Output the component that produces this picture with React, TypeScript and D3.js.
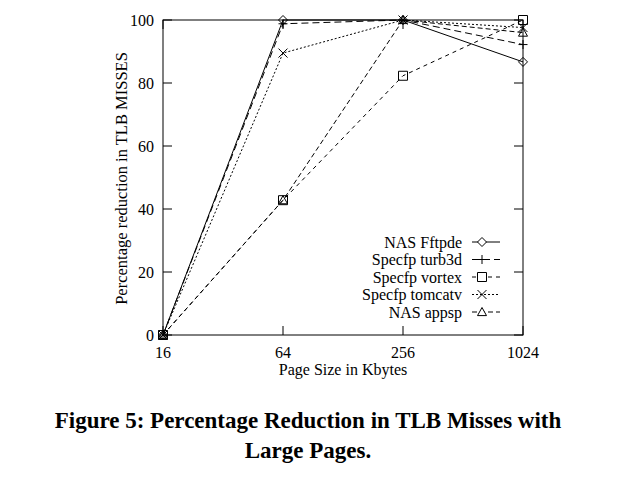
import { useRef, useEffect } from 'react';
import * as d3 from 'd3';

const pageSizes = [16, 64, 256, 1024];
const yTicks = [0, 20, 40, 60, 80, 100];

const seriesNames = ['NAS Fftpde', 'Specfp turb3d', 'Specfp vortex', 'Specfp tomcatv', 'NAS appsp'];
const fftpde = [0, 100, 100, 86.7];
const turb3d = [0, 98.8, 100, 92.2];
const vortex = [0, 42.8, 82.3, 100];
const tomcatv = [0, 89.5, 100, 97.6];
const appsp = [0, 42.8, 100, 96];

const seriesValues = [fftpde, turb3d, vortex, tomcatv, appsp];
const markers = ['diamond', 'plus', 'square', 'cross', 'triangle'];
const dashes = ['none', '7,4', '4,4', '2,2', '5,3'];

function markerPath(kind: string, x: number, y: number): string {
  const s = 4.5;
  switch (kind) {
    case 'diamond':
      return `M${x},${y - s}L${x + s},${y}L${x},${y + s}L${x - s},${y}Z`;
    case 'plus':
      return `M${x - s},${y}L${x + s},${y}M${x},${y - s}L${x},${y + s}`;
    case 'square':
      return `M${x - s},${y - s}L${x + s},${y - s}L${x + s},${y + s}L${x - s},${y + s}Z`;
    case 'cross':
      return `M${x - s},${y - s}L${x + s},${y + s}M${x - s},${y + s}L${x + s},${y - s}`;
    default:
      return `M${x},${y - s}L${x + s},${y + s * 0.8}L${x - s},${y + s * 0.8}Z`;
  }
}

export default function App() {
  const svgRef = useRef<SVGSVGElement>(null);

  useEffect(() => {
    if (!svgRef.current) return;
    const svg = d3.select(svgRef.current);
    svg.selectAll('*').remove();

    const left = 163;
    const right = 523;
    const top = 20;
    const bottom = 335;
    const font = '"Liberation Serif", "Times New Roman", serif';

    const x = d3.scaleLog().base(2).domain([16, 1024]).range([left, right]);
    const y = d3.scaleLinear().domain([0, 100]).range([bottom, top]);

    const g = svg.append('g').attr('font-family', font).attr('fill', '#000');

    // frame
    g.append('rect')
      .attr('x', left)
      .attr('y', top)
      .attr('width', right - left)
      .attr('height', bottom - top)
      .attr('fill', 'none')
      .attr('stroke', '#000')
      .attr('stroke-width', 1);

    const tl = 9;
    yTicks.forEach((t) => {
      const yy = y(t);
      g.append('line').attr('x1', left).attr('x2', left + tl).attr('y1', yy).attr('y2', yy).attr('stroke', '#000');
      g.append('line').attr('x1', right - tl).attr('x2', right).attr('y1', yy).attr('y2', yy).attr('stroke', '#000');
      g.append('text')
        .attr('x', left - 9)
        .attr('y', yy)
        .attr('dy', '0.35em')
        .attr('text-anchor', 'end')
        .attr('font-size', '16px')
        .text(t);
    });

    pageSizes.forEach((p) => {
      const xx = x(p);
      g.append('line').attr('x1', xx).attr('x2', xx).attr('y1', bottom).attr('y2', bottom - tl).attr('stroke', '#000');
      g.append('line').attr('x1', xx).attr('x2', xx).attr('y1', top).attr('y2', top + tl).attr('stroke', '#000');
      g.append('text')
        .attr('x', xx)
        .attr('y', bottom + 23)
        .attr('text-anchor', 'middle')
        .attr('font-size', '16px')
        .text(p);
    });

    g.append('text')
      .attr('x', 343)
      .attr('y', 375)
      .attr('text-anchor', 'middle')
      .attr('font-size', '16px')
      .text('Page Size in Kbytes');

    g.append('text')
      .attr('transform', `translate(127,${(top + bottom) / 2 + 1}) rotate(-90)`)
      .attr('text-anchor', 'middle')
      .attr('font-size', '16.5px')
      .text('Percentage reduction in TLB MISSES');

    const line = d3
      .line<number>()
      .x((_, i) => x(pageSizes[i]))
      .y((d) => y(d));

    seriesValues.forEach((vals, si) => {
      g.append('path')
        .attr('d', line(vals) ?? '')
        .attr('fill', 'none')
        .attr('stroke', '#000')
        .attr('stroke-width', 1)
        .attr('stroke-dasharray', dashes[si]);
      vals.forEach((v, i) => {
        g.append('path')
          .attr('d', markerPath(markers[si], x(pageSizes[i]), y(v)))
          .attr('fill', 'none')
          .attr('stroke', '#000')
          .attr('stroke-width', 1);
      });
    });

    // legend
    const legTop = 242;
    const legStep = 17.5;
    seriesNames.forEach((name, si) => {
      const ly = legTop + si * legStep;
      g.append('text')
        .attr('x', 462)
        .attr('y', ly)
        .attr('dy', '0.35em')
        .attr('text-anchor', 'end')
        .attr('font-size', '16px')
        .text(name);
      g.append('line')
        .attr('x1', 472)
        .attr('x2', 500)
        .attr('y1', ly)
        .attr('y2', ly)
        .attr('stroke', '#000')
        .attr('stroke-dasharray', dashes[si]);
      g.append('path')
        .attr('d', markerPath(markers[si], 482, ly))
        .attr('fill', '#fff')
        .attr('stroke', '#000');
    });

    // caption
    g.append('text')
      .attr('x', 308)
      .attr('y', 428)
      .attr('text-anchor', 'middle')
      .attr('font-size', '23px')
      .attr('font-weight', 'bold')
      .text('Figure 5: Percentage Reduction in TLB Misses with');
    g.append('text')
      .attr('x', 308)
      .attr('y', 458)
      .attr('text-anchor', 'middle')
      .attr('font-size', '23px')
      .attr('font-weight', 'bold')
      .text('Large Pages.');
  }, []);

  return (
    <svg
      ref={svgRef}
      width={629}
      height={482}
      style={{ position: 'absolute', left: 0, top: 0, background: '#fff' }}
    />
  );
}
